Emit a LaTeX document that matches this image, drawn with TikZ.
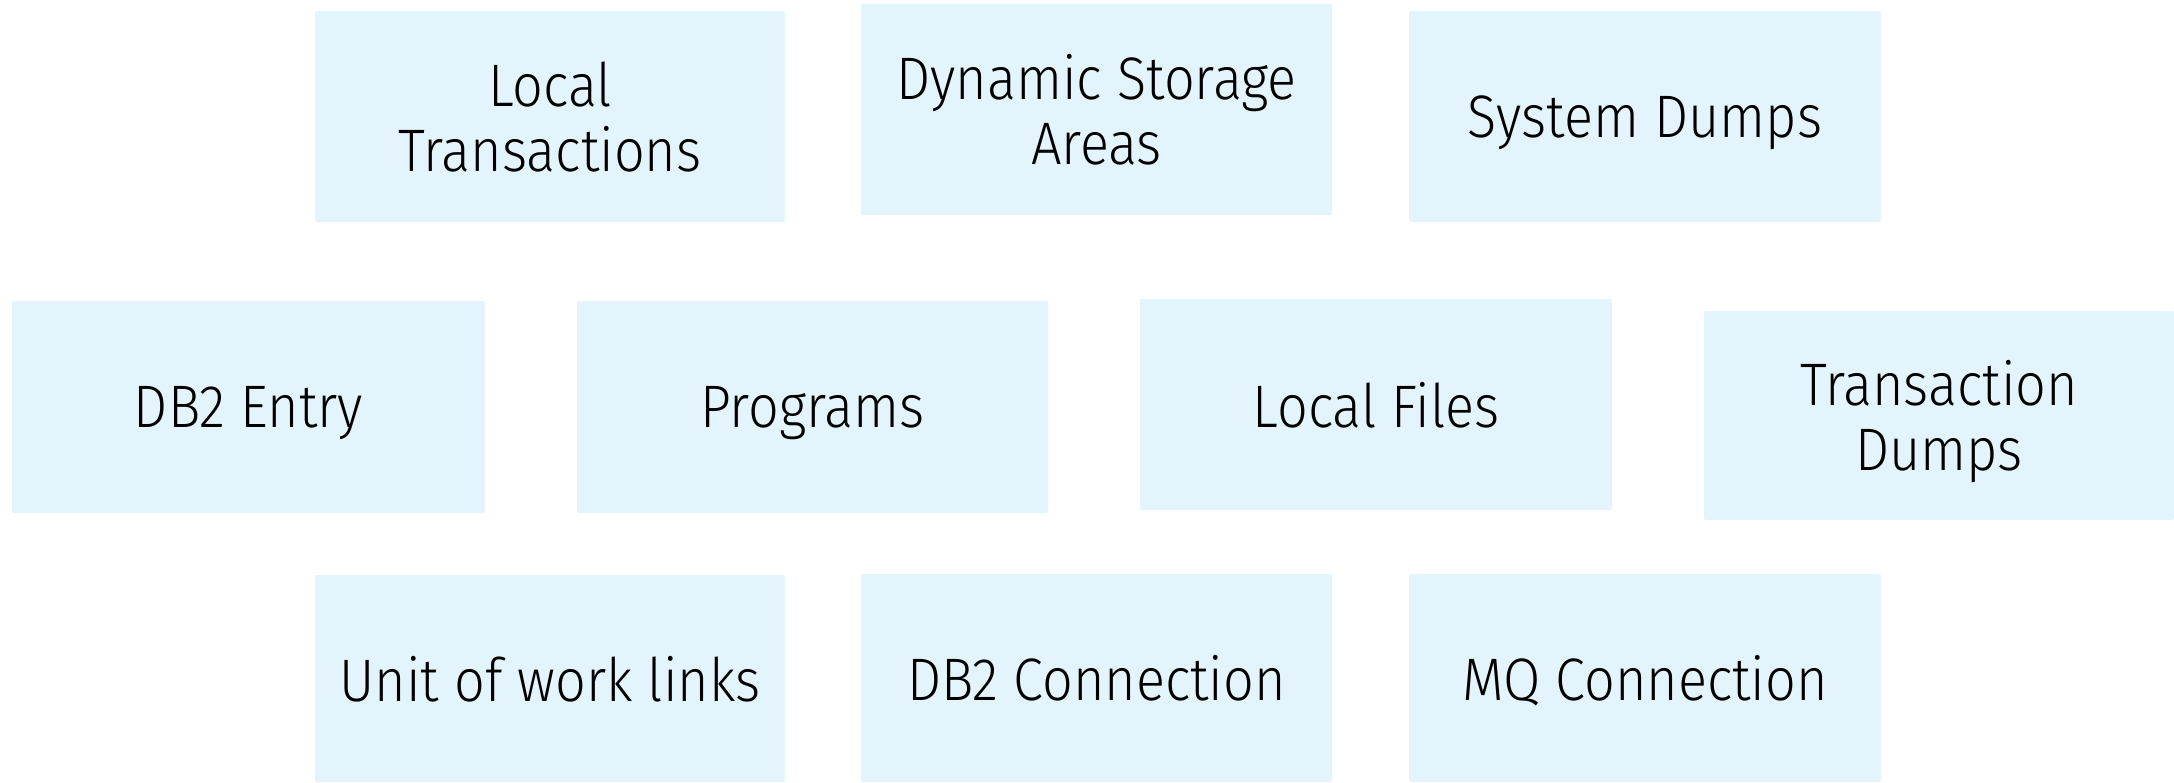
\documentclass[tikz,border=0pt]{standalone}
\usepackage{fontspec}
\setmainfont{Fira Sans Light}[FakeStretch=0.9]
\definecolor{boxfill}{HTML}{E3F4FD}
\begin{document}
\begin{tikzpicture}[x=0.5pt,y=-0.5pt,
  box/.style={fill=boxfill, draw=none, rounded corners=1pt, align=center, inner sep=0pt,
    text depth=0pt, font=\fontsize{30}{32.5}\selectfont, text=black}]
\useasboundingbox (0,0) rectangle (2174,782);
\node[box, minimum width=235pt, minimum height=105.5pt] (lt) at (550,116.5) {Local\\Transactions};
\node[box, minimum width=235.5pt, minimum height=105.5pt] (dsa) at (1096.5,109.5) {Dynamic Storage\\Areas};
\node[box, minimum width=236pt, minimum height=105.5pt] (sd) at (1645,116.5) {System Dumps};
\node[box, minimum width=236.5pt, minimum height=106pt] (db2e) at (248.5,407) {DB2 Entry};
\node[box, minimum width=235.5pt, minimum height=106pt] (prog) at (812.5,407) {Programs};
\node[box, minimum width=236pt, minimum height=105.5pt] (lf) at (1376,404.5) {Local Files};
\node[box, minimum width=235pt, minimum height=104.5pt] (td) at (1939,415.5) {Transaction\\Dumps};
\node[box, minimum width=235pt, minimum height=103.5pt] (uow) at (550,678.5) {Unit of work links};
\node[box, minimum width=235.5pt, minimum height=104pt] (db2c) at (1096.5,678) {DB2 Connection};
\node[box, minimum width=236pt, minimum height=104pt] (mq) at (1645,678) {MQ Connection};
\end{tikzpicture}
\end{document}
